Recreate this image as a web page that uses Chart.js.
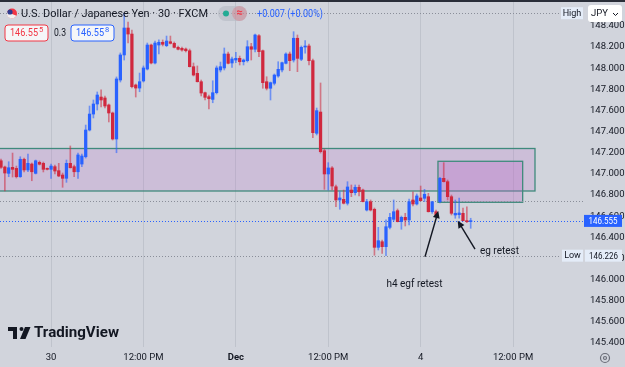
<!DOCTYPE html>
<html>
<head>
<meta charset="utf-8">
<script src="https://cdn.jsdelivr.net/npm/chart.js@4.4.0/dist/chart.umd.min.js"></script>
<style>
  html, body { margin: 0; padding: 0; background: #d1d4dc; }
  #wrap { width: 625px; height: 367px; }
</style>
</head>
<body>
<div id="wrap"><canvas id="fxChart" width="625" height="367"></canvas></div>
<script>
// --- USDJPY 30m candles ---
const opens = [147.124,147.065,147.005,147.062,147.052,146.973,147.138,147.037,147.093,147.005,147.109,147.100,147.046,147.043,147.068,147.030,146.989,146.958,147.100,147.068,147.020,147.093,147.162,147.415,147.566,147.661,147.727,147.718,147.652,147.576,147.330,147.888,148.125,148.380,148.323,147.841,147.812,147.879,147.992,148.219,148.049,148.219,148.245,148.213,148.250,148.235,148.197,148.188,148.181,148.165,148.014,147.951,147.872,147.768,147.730,147.705,147.768,147.983,148.002,148.134,148.049,148.077,148.093,148.061,148.071,148.203,148.179,148.307,148.165,147.872,147.810,147.857,147.926,147.983,148.046,148.134,148.077,148.283,148.084,148.200,148.210,148.071,147.384,147.585,147.219,146.999,147.056,146.878,146.753,146.759,146.722,146.847,146.822,146.873,146.847,146.658,146.737,146.665,146.305,146.358,146.311,146.494,146.570,146.652,146.548,146.589,146.564,146.753,146.715,146.772,146.769,146.784,146.642,146.642,146.737,146.958,146.926,146.784,146.611,146.614,146.627,146.557,146.548];
const highs = [147.140,147.074,147.115,147.197,147.074,147.162,147.150,147.188,147.103,147.131,147.122,147.112,147.056,147.093,147.084,147.100,147.008,147.131,147.264,147.084,147.197,147.188,147.462,147.642,147.699,147.775,147.794,147.737,147.661,147.585,147.917,148.144,148.520,148.437,148.361,147.850,147.954,148.021,148.238,148.229,148.257,148.267,148.267,148.304,148.304,148.248,148.210,148.200,148.191,148.181,148.049,148.021,147.888,147.775,147.746,147.881,148.021,148.058,148.191,148.153,148.106,148.150,148.115,148.087,148.260,148.235,148.323,148.317,148.172,147.919,147.869,147.945,148.061,148.058,148.144,148.153,148.345,148.314,148.210,148.260,148.229,148.087,147.623,147.860,147.235,147.106,147.068,146.895,146.831,146.847,146.926,146.895,146.895,146.895,146.857,146.759,146.753,146.677,146.494,146.374,146.564,146.627,146.753,146.668,146.601,146.627,146.762,146.831,146.810,146.885,146.854,146.816,146.737,146.658,146.967,147.106,146.942,146.800,146.753,146.772,146.677,146.687,146.580];
const lows = [147.051,146.838,146.973,146.970,146.961,146.967,147.018,147.020,146.935,146.999,147.084,147.018,147.037,146.958,146.999,146.973,146.873,146.920,147.056,146.973,146.958,147.068,147.150,147.406,147.529,147.604,147.633,147.623,147.491,147.320,147.200,147.869,148.077,148.238,147.812,147.727,147.777,147.869,147.983,148.040,148.040,148.134,148.210,148.203,148.229,148.191,148.172,148.162,148.153,148.011,147.926,147.869,147.737,147.699,147.614,147.673,147.756,147.964,147.983,148.040,148.008,148.052,148.030,148.030,148.058,148.077,148.153,148.109,147.810,147.794,147.699,147.841,147.914,147.964,148.040,147.976,148.058,147.967,148.071,148.141,148.030,147.342,147.368,147.197,146.854,146.847,146.847,146.689,146.665,146.715,146.705,146.784,146.800,146.791,146.734,146.649,146.649,146.230,146.280,146.248,146.226,146.478,146.554,146.545,146.476,146.507,146.516,146.696,146.705,146.743,146.737,146.639,146.627,146.592,146.724,146.923,146.753,146.611,146.580,146.582,146.554,146.538,146.485];
const closes = [147.062,147.008,147.058,147.043,146.973,147.138,147.037,147.100,147.020,147.124,147.091,147.043,147.043,147.074,147.027,146.980,146.958,147.100,147.058,147.020,147.179,147.169,147.415,147.566,147.661,147.746,147.699,147.642,147.576,147.330,147.898,148.125,148.380,148.323,147.825,147.812,147.872,148.002,148.219,148.049,148.238,148.245,148.226,148.257,148.235,148.197,148.179,148.172,148.165,148.014,147.935,147.872,147.765,147.724,147.711,147.768,148.002,148.014,148.134,148.046,148.087,148.093,148.061,148.077,148.203,148.179,148.314,148.156,147.863,147.810,147.863,147.935,147.989,148.052,148.134,148.071,148.283,148.093,148.197,148.207,148.071,147.390,147.598,147.210,146.999,147.056,146.885,146.753,146.772,146.722,146.876,146.822,146.873,146.831,146.737,146.737,146.658,146.305,146.368,146.311,146.500,146.589,146.642,146.548,146.589,146.564,146.737,146.715,146.791,146.746,146.807,146.642,146.737,146.611,146.958,146.926,146.784,146.627,146.627,146.630,146.557,146.548,146.555];

// --- axis ticks ---
const xTickBars = [13, 37, 61, 85, 109, 133];
const xTickLabels = ['30', '12:00 PM', 'Dec', '12:00 PM', '4', '12:00 PM'];
const yTickValues = [145.4, 145.6, 145.8, 146.0, 146.2, 146.4, 146.6, 146.8, 147.0, 147.2, 147.4, 147.6, 147.8, 148.0, 148.2, 148.4];

// --- drawings on the chart ---
const zoneFrom = [-2, 113.5];
const zoneTo = [138.7, 135.5];
const zoneTop = [147.240, 147.119];
const zoneBottom = [146.838, 146.731];
const levelLine = 146.743;
const arrowFromBar = [110.13, 123.12];
const arrowFromPrice = [146.216, 146.289];
const arrowToBar = [113.58, 118.62];
const arrowToPrice = [146.649, 146.557];
const noteText = ['h4 egf retest', 'eg retest'];
const noteBar = [107.4, 124.4];
const notePrice = [145.958, 146.261];

const UP = '#2962ff';
const DOWN = '#d0283e';
const FONT = 'Roboto, "Liberation Sans", sans-serif';

const isUp = closes.map((c, i) => c >= opens[i]);
const lastClose = closes[closes.length - 1];
const hiPrice = Math.max(...highs);
const loPrice = Math.min(...lows);

// small helpers for the overlay
function rrect(ctx, x, y, w, h, r) {
    ctx.beginPath();
    ctx.moveTo(x + r, y);
    ctx.arcTo(x + w, y, x + w, y + h, r);
    ctx.arcTo(x + w, y + h, x, y + h, r);
    ctx.arcTo(x, y + h, x, y, r);
    ctx.arcTo(x, y, x + w, y, r);
    ctx.closePath();
}

function text(ctx, str, x, y, size, color, opts = {}) {
    ctx.font = `${opts.weight || 'normal'} ${size}px ${FONT}`;
    ctx.fillStyle = color;
    ctx.textAlign = opts.align || 'left';
    ctx.textBaseline = 'middle';
    if (opts.width) {
        const w = ctx.measureText(str).width;
        ctx.save();
        ctx.translate(x, y);
        ctx.scale(opts.width / w, 1);
        ctx.fillText(str, 0, 0);
        ctx.restore();
    } else {
        ctx.fillText(str, x, y);
    }
}

function dotted(ctx, x0, x1, y, color) {
    ctx.save();
    ctx.strokeStyle = color;
    ctx.lineWidth = 1;
    ctx.setLineDash([1, 2]);
    ctx.beginPath();
    ctx.moveTo(x0, Math.round(y) + 0.5);
    ctx.lineTo(x1, Math.round(y) + 0.5);
    ctx.stroke();
    ctx.restore();
}

function arrow(ctx, x0, y0, x1, y1) {
    const ang = Math.atan2(y1 - y0, x1 - x0);
    ctx.strokeStyle = '#131722';
    ctx.fillStyle = '#131722';
    ctx.lineWidth = 1.4;
    ctx.beginPath();
    ctx.moveTo(x0, y0);
    ctx.lineTo(x1 - Math.cos(ang) * 5, y1 - Math.sin(ang) * 5);
    ctx.stroke();
    ctx.beginPath();
    ctx.moveTo(x1, y1);
    ctx.lineTo(x1 - Math.cos(ang - 0.45) * 8, y1 - Math.sin(ang - 0.45) * 8);
    ctx.lineTo(x1 - Math.cos(ang + 0.45) * 8, y1 - Math.sin(ang + 0.45) * 8);
    ctx.closePath();
    ctx.fill();
}

function priceBox(ctx, x, y, w, main, sup, color) {
    ctx.fillStyle = '#f5f6f8';
    rrect(ctx, x, y, w, 16, 3);
    ctx.fill();
    ctx.strokeStyle = color;
    ctx.lineWidth = 1;
    ctx.stroke();
    text(ctx, main, x + 5, y + 8.5, 10.5, color, { width: 28 });
    text(ctx, sup, x + 34, y + 5, 7.5, color);
}

const overlay = {
    id: 'overlay',
    beforeDraw(chart) {
        const { ctx, width, height } = chart;
        ctx.save();
        ctx.fillStyle = '#d1d4dc';
        ctx.fillRect(0, 0, width, height);
        ctx.restore();
    },
    beforeDatasetsDraw(chart) {
        const { ctx, chartArea: a, scales: { x, y } } = chart;
        ctx.save();
        ctx.beginPath();
        ctx.rect(a.left, a.top, a.right - a.left, a.bottom - a.top);
        ctx.clip();
        // supply / demand boxes
        zoneFrom.forEach((f, k) => {
            const x0 = x.getPixelForValue(f), x1 = x.getPixelForValue(zoneTo[k]);
            const y0 = y.getPixelForValue(zoneTop[k]), y1 = y.getPixelForValue(zoneBottom[k]);
            ctx.fillStyle = k === 0 ? 'rgba(186, 104, 200, 0.2)' : 'rgba(186, 104, 200, 0.3)';
            ctx.fillRect(x0, y0, x1 - x0, y1 - y0);
            ctx.strokeStyle = '#3f8a7c';
            ctx.lineWidth = 1.3;
            ctx.strokeRect(x0, y0, x1 - x0, y1 - y0);
        });
        ctx.restore();
        // horizontal price lines
        dotted(ctx, a.left, a.right, y.getPixelForValue(levelLine), '#8a8e99');
        dotted(ctx, a.left, 561, y.getPixelForValue(hiPrice), '#8a8e99');
        dotted(ctx, a.left, 561, y.getPixelForValue(loPrice), '#8a8e99');
        dotted(ctx, a.left, a.right, y.getPixelForValue(lastClose), '#2962ff');
    },
    afterDraw(chart) {
        const { ctx, chartArea: a, scales: { x, y } } = chart;
        ctx.save();

        // arrows + notes
        arrowFromBar.forEach((b, k) => {
            arrow(ctx, x.getPixelForValue(b), y.getPixelForValue(arrowFromPrice[k]),
                x.getPixelForValue(arrowToBar[k]), y.getPixelForValue(arrowToPrice[k]));
        });
        noteText.forEach((t, k) => {
            text(ctx, t, x.getPixelForValue(noteBar[k]), y.getPixelForValue(notePrice[k]), 10, '#131722',
                { align: k === 0 ? 'center' : 'left' });
        });

        // top strip
        ctx.fillStyle = '#2a2e39';
        ctx.fillRect(0, 0, chart.width, 2);

        // symbol header
        ctx.fillStyle = '#f23645';
        ctx.beginPath(); ctx.arc(12, 13.5, 5, 0, Math.PI * 2); ctx.fill();
        ctx.fillStyle = '#f0f0f0';
        ctx.beginPath(); ctx.arc(12, 13.5, 5, Math.PI * 0.15, Math.PI * 1.1); ctx.fill();
        ctx.fillStyle = '#2f3b8f';
        ctx.beginPath(); ctx.arc(10, 12, 2.6, 0, Math.PI * 2); ctx.fill();
        text(ctx, 'U.S. Dollar / Japanese Yen · 30 · FXCM', 21, 14, 11.5, '#131722', { width: 187 });

        ctx.fillStyle = 'rgba(180, 185, 195, 0.6)';
        rrect(ctx, 218, 6, 29, 15, 7.5); ctx.fill();
        ctx.fillStyle = '#22ab94';
        ctx.beginPath(); ctx.arc(226, 13.5, 3, 0, Math.PI * 2); ctx.fill();
        ctx.fillStyle = 'rgba(242, 54, 69, 0.22)';
        rrect(ctx, 232, 6, 15, 15, 7.5); ctx.fill();
        text(ctx, '≈', 239.5, 13.5, 11, '#f23645', { align: 'center', weight: 'bold' });
        text(ctx, '+0.007 (+0.00%)', 257, 14, 10, '#2962ff', { width: 66 });

        priceBox(ctx, 5, 25, 43, '146.55', '5', '#f23645');
        text(ctx, '0.3', 54, 33.5, 10, '#131722', { width: 12 });
        priceBox(ctx, 71, 25, 43, '146.55', '8', '#2962ff');

        // price axis tags
        const yLast = y.getPixelForValue(lastClose);
        ctx.fillStyle = '#2962ff';
        ctx.fillRect(584, yLast - 6, 38, 12);
        text(ctx, lastClose.toFixed(3), 603, yLast + 0.5, 9.5, '#ffffff', { align: 'center', width: 29 });

        const yLo = y.getPixelForValue(loPrice);
        ctx.fillStyle = '#e4ecf8';
        ctx.fillRect(562, yLo - 6, 21, 12);
        ctx.fillRect(585, yLo - 6, 37, 12);
        text(ctx, 'Low', 572.5, yLo + 0.5, 9, '#131722', { align: 'center' });
        text(ctx, loPrice.toFixed(3), 603.5, yLo + 0.5, 9.5, '#131722', { align: 'center', width: 29 });

        const yHi = y.getPixelForValue(hiPrice);
        ctx.fillStyle = '#e4ecf8';
        ctx.fillRect(561, yHi - 6, 22, 12);
        text(ctx, 'High', 572, yHi + 0.5, 9, '#131722', { align: 'center' });

        ctx.fillStyle = '#ffffff';
        rrect(ctx, 588, 5, 34, 17, 3); ctx.fill();
        text(ctx, 'JPY', 591, 14, 9.5, '#131722');
        ctx.strokeStyle = '#131722';
        ctx.lineWidth = 1;
        ctx.beginPath(); ctx.moveTo(613, 13); ctx.lineTo(615.5, 15.5); ctx.lineTo(618, 13); ctx.stroke();

        // settings gear
        ctx.strokeStyle = '#6a6d78';
        ctx.lineWidth = 1.2;
        ctx.beginPath(); ctx.arc(605, 358, 4.5, 0, Math.PI * 2); ctx.stroke();
        ctx.beginPath(); ctx.arc(605, 358, 1.5, 0, Math.PI * 2); ctx.stroke();

        // TradingView logo
        ctx.fillStyle = '#131722';
        ctx.fillRect(8, 327, 9, 4);
        ctx.fillRect(13, 327, 4, 12);
        ctx.beginPath(); ctx.arc(21.5, 329, 2, 0, Math.PI * 2); ctx.fill();
        ctx.beginPath();
        ctx.moveTo(25, 327); ctx.lineTo(30.5, 327); ctx.lineTo(25.5, 339); ctx.lineTo(20, 339);
        ctx.closePath(); ctx.fill();
        text(ctx, 'TradingView', 34, 333.5, 15, '#131722', { weight: 'bold', width: 85 });

        ctx.restore();
    }
};

const bars = opens.map((_, i) => i);

const ctx = document.getElementById('fxChart').getContext('2d');
const fxChart = new Chart(ctx, {
    type: 'bar',
    data: {
        datasets: [
            {
                label: 'body',
                data: bars.map(i => ({ x: i, y: [Math.min(opens[i], closes[i]), Math.max(opens[i], closes[i])] })),
                backgroundColor: bars.map(i => isUp[i] ? UP : DOWN),
                barThickness: 2.6,
                minBarLength: 1,
                grouped: false,
                order: 0
            },
            {
                label: 'wick',
                data: bars.map(i => ({ x: i, y: [lows[i], highs[i]] })),
                backgroundColor: bars.map(i => isUp[i] ? 'rgba(41, 98, 255, 0.6)' : 'rgba(208, 40, 62, 0.55)'),
                barThickness: 1,
                grouped: false,
                order: 1
            }
        ]
    },
    options: {
        responsive: false,
        animation: false,
        devicePixelRatio: 1,
        layout: { padding: 0 },
        plugins: {
            legend: { display: false },
            tooltip: { enabled: false }
        },
        scales: {
            x: {
                type: 'linear',
                offset: false,
                min: -0.26,
                max: 151.17,
                afterBuildTicks: s => { s.ticks = xTickBars.map(v => ({ value: v })); },
                afterFit: s => { s.height = 20; s.paddingLeft = 0; s.paddingRight = 0; },
                grid: { color: 'rgba(150, 155, 170, 0.3)', drawTicks: false, offset: false },
                border: { display: false },
                ticks: {
                    padding: 5,
                    color: '#131722',
                    maxRotation: 0,
                    autoSkip: false,
                    font: c => ({ family: FONT, size: 9.5, weight: c.index === 2 ? 'bold' : 'normal' }),
                    callback: (v, i) => xTickLabels[i]
                }
            },
            y: {
                position: 'right',
                min: 145.362,
                max: 148.645,
                afterBuildTicks: s => { s.ticks = yTickValues.map(v => ({ value: v })); },
                afterFit: s => { s.width = 42; s.paddingTop = 0; s.paddingBottom = 0; },
                grid: { display: false, drawTicks: false },
                border: { display: false },
                ticks: {
                    padding: 7,
                    color: '#131722',
                    font: { family: FONT, size: 9.5 },
                    callback: v => v.toFixed(3)
                }
            }
        }
    },
    plugins: [overlay]
});
</script>
</body>
</html>
